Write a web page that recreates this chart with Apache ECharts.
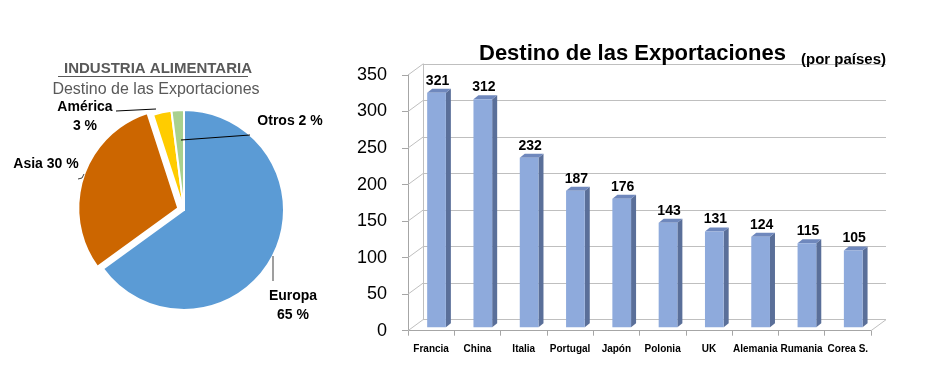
<!DOCTYPE html>
<html><head><meta charset="utf-8">
<script src="https://cdn.jsdelivr.net/npm/echarts@6/dist/echarts.min.js"></script>
<style>html,body{margin:0;padding:0;background:#fff}#c{width:939px;height:380px}</style>
</head><body><div id="c"></div>
<script>
// ---- data ----
const regions = ['Europa', 'Asia', 'América', 'Otros'];
const regionShares = [65, 30, 3, 2];
const regionLabels = ['Europa\n65 %', 'Asia 30 %', 'América\n3 %', 'Otros 2 %'];
const countries = ['Francia', 'China', 'Italia', 'Portugal', 'Japón', 'Polonia', 'UK', 'Alemania', 'Rumania', 'Corea S.'];
const exportsByCountry = [321, 312, 232, 187, 176, 143, 131, 124, 115, 105];
const yTicks = [0, 50, 100, 150, 200, 250, 300, 350];

const FONT = 'Liberation Sans';
const DX = 15, DY = -11;       // depth of the 3D box
const regionColors = ['#5b9bd5', '#cc6600', '#ffcc00', '#a9d18e'];
const EXPLODED = 1;            // Asia slice is pulled out
const PIE_C = [184, 210], PIE_R = 100, EXPLODE = 6;

const chart = echarts.init(document.getElementById('c'), null, {renderer: 'canvas'});

// direction of the exploded slice (from its mid angle, clockwise from 12 o'clock)
const total = regionShares.reduce((a, b) => a + b, 0);
const before = regionShares.slice(0, EXPLODED).reduce((a, b) => a + b, 0);
const midAng = (before + regionShares[EXPLODED] / 2) / total * 2 * Math.PI;
const explodedCenter = [PIE_C[0] + EXPLODE * Math.sin(midAng), PIE_C[1] - EXPLODE * Math.cos(midAng)];

const pieLabelPos = {
  0: {x: 293, y: 306},
  1: {x: 46, y: 164},
  2: {x: 85, y: 117},
  3: {x: 290, y: 121}
};

const clear = 'rgba(0,0,0,0)';

const option = {
  backgroundColor: '#fff',
  animation: false,
  textStyle: {fontFamily: FONT},
  title: [
    {text: 'Destino de las Exportaciones', left: 474, top: 38,
     textStyle: {fontFamily: FONT, fontSize: 22, fontWeight: 'bold', color: '#000'}},
    {text: '(por países)', left: 796, top: 47,
     textStyle: {fontFamily: FONT, fontSize: 15, fontWeight: 'bold', color: '#000'}},
    {text: 'INDUSTRIA ALIMENTARIA', left: 153, top: 56, textAlign: 'center',
     textStyle: {fontFamily: FONT, fontSize: 15, fontWeight: 'bold', color: '#595959'}},
    {text: 'Destino de las Exportaciones', left: 151, top: 77, textAlign: 'center',
     textStyle: {fontFamily: FONT, fontSize: 16, fontWeight: 'normal', color: '#595959'}}
  ],
  graphic: [
    {type: 'line', shape: {x1: 58, y1: 76.5, x2: 248, y2: 76.5},
     style: {stroke: '#595959', lineWidth: 1.2}},
    // pie leader lines
    {type: 'line', shape: {x1: 273, y1: 256, x2: 273, y2: 281}, style: {stroke: '#7f7f7f', lineWidth: 1.5}, z: 10},
    {type: 'polyline', shape: {points: [[78, 179], [82, 178], [84, 174]]}, style: {stroke: '#404040', lineWidth: 1}, z: 10},
    {type: 'line', shape: {x1: 116, y1: 111, x2: 156, y2: 109}, style: {stroke: '#000', lineWidth: 1}, z: 10},
    {type: 'line', shape: {x1: 181, y1: 140, x2: 250, y2: 135}, style: {stroke: '#000', lineWidth: 1}, z: 10}
  ],
  grid: [
    {left: 408, right: 68, top: 75, bottom: 49.3},
    {left: 408 + DX, right: 68 - DX, top: 75 + DY, bottom: 49.3 - DY}
  ],
  xAxis: [
    {type: 'category', gridIndex: 0, data: countries,
     axisLine: {show: true, lineStyle: {color: '#a6a6a6'}},
     axisTick: {show: true, inside: false, length: 5, lineStyle: {color: '#a6a6a6'}},
     axisLabel: {fontFamily: FONT, fontSize: 10, fontWeight: 'bold', color: '#000', margin: 14, interval: 0}},
    {type: 'category', gridIndex: 1, data: countries, show: false}
  ],
  yAxis: [
    {type: 'value', gridIndex: 0, min: 0, max: 350, interval: 50,
     axisLine: {show: true, lineStyle: {color: '#a6a6a6'}},
     axisTick: {show: true, inside: false, length: 6, lineStyle: {color: '#a6a6a6'}},
     splitLine: {show: false},
     axisLabel: {fontFamily: FONT, fontSize: 18, color: '#000', margin: 21, padding: [8, 0, 0, 0]}},
    {type: 'value', gridIndex: 1, min: 0, max: 350, interval: 50,
     axisLine: {show: true, lineStyle: {color: '#bfbfbf'}},
     axisTick: {show: false}, axisLabel: {show: false},
     splitLine: {show: true, lineStyle: {color: '#bfbfbf', width: 1}}}
  ],
  series: [
    {
      // main pie (exploded slice drawn by the next series)
      type: 'pie',
      center: PIE_C,
      radius: PIE_R,
      startAngle: 90,
      clockwise: true,
      avoidLabelOverlap: false,
      z: 2,
      data: regions.map((n, i) => ({
        name: n, value: regionShares[i],
        itemStyle: i === EXPLODED ? {color: clear, borderWidth: 0}
                                  : {color: regionColors[i], borderColor: '#fff', borderWidth: 2},
        label: {formatter: regionLabels[i]}
      })),
      label: {show: true, position: 'outside', fontFamily: FONT, fontSize: 14, fontWeight: 'bold',
              color: '#000', lineHeight: 19, align: 'center'},
      labelLine: {show: false},
      labelLayout: function (p) {
        const pos = pieLabelPos[p.dataIndex];
        return {x: pos.x, y: pos.y, align: 'center', verticalAlign: 'middle'};
      },
      emphasis: {disabled: true}
    },
    {
      // exploded slice
      type: 'pie',
      center: explodedCenter,
      radius: PIE_R,
      startAngle: 90,
      clockwise: true,
      silent: true,
      z: 2,
      data: regions.map((n, i) => ({
        name: n, value: regionShares[i],
        itemStyle: i === EXPLODED ? {color: regionColors[i], borderColor: '#fff', borderWidth: 2}
                                  : {color: clear, borderWidth: 0}
      })),
      label: {show: false},
      labelLine: {show: false},
      emphasis: {disabled: true}
    },
    {
      type: 'custom',
      xAxisIndex: 0, yAxisIndex: 0,
      data: exportsByCountry.map((v, i) => [i, v]),
      encode: {x: 0, y: 1},
      z: 5,
      renderItem: function (params, api) {
        const i = api.value(0), v = api.value(1);
        const top = api.coord([i, v]);
        const base = api.coord([i, 0]);
        const bw = api.size([1, 0])[0];
        const off = -3.4;
        const cx = top[0];
        const x0 = cx - 0.086 * bw, x1 = cx + 0.318 * bw;
        const yt = top[1] + off, yb = base[1] + off;
        const d = 5, dy = -4;
        return {
          type: 'group',
          children: [
            {type: 'polygon', shape: {points: [[x1, yt], [x1 + d, yt + dy], [x1 + d, yb + dy], [x1, yb]]},
             style: {fill: '#5a6f99'}},
            {type: 'polygon', shape: {points: [[x0, yt], [x0 + d, yt + dy], [x1 + d, yt + dy], [x1, yt]]},
             style: {fill: '#6f88bd'}},
            {type: 'rect', shape: {x: x0, y: yt, width: x1 - x0, height: yb - yt},
             style: {fill: '#8eaadc'}},
            {type: 'text', x: (x0 + x1) / 2 + 1, y: yt - 5,
             style: {text: String(v), fontFamily: FONT, fontSize: 14, fontWeight: 'bold', fill: '#000',
                     align: 'center', verticalAlign: 'bottom'}}
          ]
        };
      }
    },
    {
      type: 'custom',
      xAxisIndex: 0, yAxisIndex: 0,
      data: yTicks.map(v => [0, v]),
      encode: {x: 0, y: 1},
      z: 1,
      silent: true,
      renderItem: function (params, api) {
        const cs = params.coordSys;
        const y = api.coord([0, api.value(1)])[1];
        const ch = [{type: 'line', shape: {x1: cs.x, y1: y, x2: cs.x + DX, y2: y + DY},
                     style: {stroke: '#bfbfbf', lineWidth: 1}}];
        if (api.value(1) === 0) {
          ch.push({type: 'line', shape: {x1: cs.x + cs.width, y1: y, x2: cs.x + cs.width + DX, y2: y + DY},
                   style: {stroke: '#bfbfbf', lineWidth: 1}});
        }
        return {type: 'group', children: ch};
      }
    }
  ]
};
chart.setOption(option);
</script>
</body></html>
